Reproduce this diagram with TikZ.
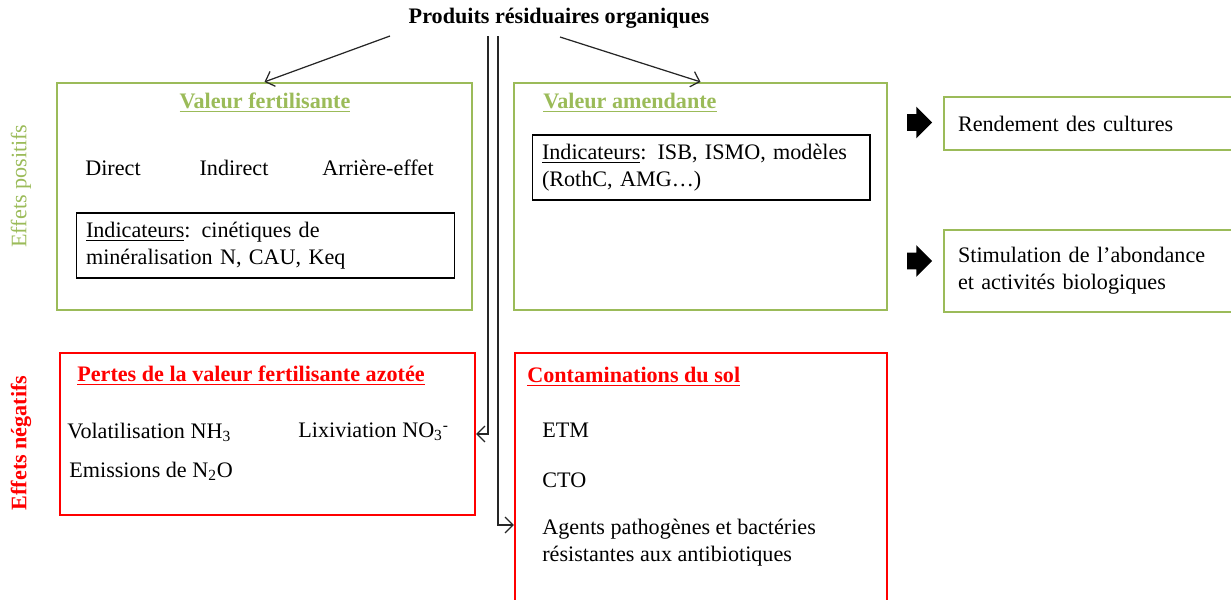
\documentclass[tikz,border=0pt]{standalone}
\usepackage{fontspec}
\setmainfont{Liberation Serif}
\usetikzlibrary{shapes.arrows, arrows.meta}
\definecolor{vert}{HTML}{9BBB59}
\definecolor{rouge}{HTML}{FF0000}

\begin{document}
\begin{tikzpicture}[x=0.02cm, y=-0.02cm, font=\fontsize{12.6}{15.5}\selectfont]
            \tikzset{greenbox/.style = {draw=vert, line width=1.3pt, inner sep=0pt}}
            \tikzset{redbox/.style = {draw=rouge, line width=1.3pt, inner sep=0pt}}
            \tikzset{inbox/.style = {draw, line width=0.6pt, inner xsep=0.2cm, align=left}}
            \tikzset{sidebox/.style = {greenbox, inner xsep=0.28cm, text width=5.76cm, minimum width=6.32cm, align=left}}
            \tikzset{txt/.style = {anchor=west, inner sep=0pt}}
            \tikzset{bold/.style = {font=\fontsize{12.6}{15.5}\selectfont\bfseries}}
            \tikzset{edge/.style = {draw=black!85, line width=0.7pt, -{Straight Barb[length=4.5pt,width=9pt]}}}
            \tikzset{bigarrow/.style = {single arrow, fill=black, inner xsep=0pt, inner ysep=0.16cm, minimum height=0.5cm, single arrow head extend=0.15cm}}

            \clip (0, 0) rectangle (1231, 599);

            \node[bold] (prod) at (559, 18) {Produits résiduaires organiques};
            \coordinate (t1) at (390, 36);
            \coordinate (t2) at (560, 37);
            \coordinate (v1) at (488, 36);
            \coordinate (v2) at (498, 36);

            \node[rotate=90, text=vert] (effpos) at (21, 186) {Effets positifs};
            \node[rotate=90, text=rouge, bold] (effneg) at (21, 443) {Effets négatifs};

            % effets positifs
            \node[greenbox, minimum width=8.3cm, minimum height=4.54cm] (fert) at (264.5, 196.5) {};
            \node[text=vert, bold] (fertT) at (265, 103) {\underline{Valeur fertilisante}};
            \node (direct) at (113, 168) {Direct};
            \node (indirect) at (234, 168) {Indirect};
            \node (arriere) at (378, 168) {Arrière-effet};
            \node[inbox, text width=7.18cm, minimum height=1.3cm] (indA) at (265.5, 245.5)
                {\underline{Indicateurs}: cinétiques de\\minéralisation N, CAU, Keq};

            \node[greenbox, minimum width=7.46cm, minimum height=4.54cm] (amend) at (700.5, 196.5) {};
            \node[txt, text=vert, bold] (amendT) at (543, 103) {\underline{Valeur amendante}};
            \node[inbox, text width=6.36cm, minimum height=1.3cm] (indB) at (701, 167.5)
                {\underline{Indicateurs}: ISB, ISMO, modèles\\(RothC, AMG…)};

            \node[bigarrow] (ar1) at (915.5, 122.5) {};
            \node[bigarrow] (ar2) at (915.5, 261) {};
            \node[sidebox, minimum height=1.06cm] (rend) at (1102, 123.5) {Rendement des cultures};
            \node[sidebox, minimum height=1.64cm] (stim) at (1102, 271) {Stimulation de l’abondance\\et activités biologiques};

            % effets negatifs
            \node[redbox, minimum width=8.3cm, minimum height=3.24cm] (pertes) at (267.5, 434) {};
            \node[txt, text=rouge, bold] (pertesT) at (77, 376) {\underline{Pertes de la valeur fertilisante azotée}};
            \node[txt] (volat) at (67, 432) {Volatilisation NH\textsubscript{3}};
            \node[txt] (lixiv) at (298, 432) {Lixiviation NO\textsubscript{3}\textsuperscript{-}};
            \node[txt] (emis) at (69, 471) {Emissions de N\textsubscript{2}O};

            \node[redbox, minimum width=7.44cm, minimum height=6.88cm] (contam) at (701, 525) {};
            \node[txt, text=rouge, bold] (contamT) at (527, 377) {\underline{Contaminations du sol}};
            \node[txt] (etm) at (542, 430) {ETM};
            \node[txt] (cto) at (542, 480) {CTO};
            \node[txt, align=left] (agents) at (542, 543) {Agents pathogènes et bactéries\\résistantes aux antibiotiques};

            \draw[edge] (t1) to (fert.north);
            \draw[edge] (t2) to (amend.north);
            \draw[edge] (v1) |- (pertes.east);
            \draw[edge] (v2) |- (contam.west);
        \end{tikzpicture}
\end{document}
